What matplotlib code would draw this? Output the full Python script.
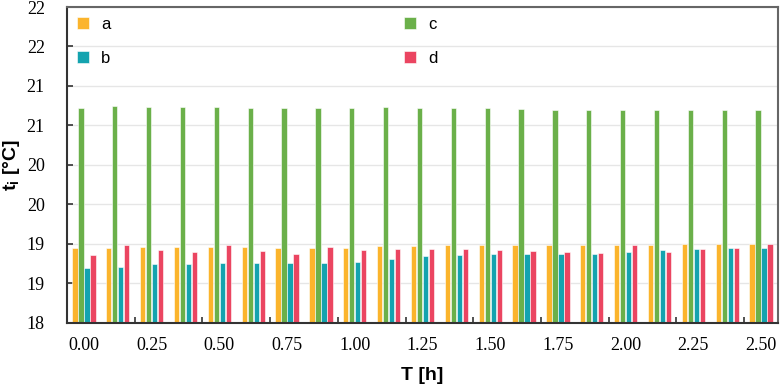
import matplotlib
matplotlib.use("Agg")
import matplotlib.pyplot as plt
import numpy as np

# ---- data ----
time_labels = ["0.00", "0.125", "0.25", "0.375", "0.50", "0.625", "0.75", "0.875",
               "1.00", "1.125", "1.25", "1.375", "1.50", "1.625", "1.75", "1.875",
               "2.00", "2.125", "2.25", "2.375", "2.50"]
series_a = [18.95, 18.95, 18.96, 18.96, 18.96, 18.96, 18.95, 18.95, 18.95, 18.97, 18.975,
            18.98, 18.98, 18.98, 18.98, 18.98, 18.98, 18.99, 18.995, 19.00, 19.00]
series_b = [18.69, 18.71, 18.74, 18.75, 18.76, 18.76, 18.76, 18.76, 18.77, 18.81, 18.84,
            18.86, 18.865, 18.865, 18.87, 18.87, 18.89, 18.92, 18.94, 18.95, 18.95]
series_c = [20.72, 20.74, 20.73, 20.73, 20.73, 20.72, 20.72, 20.72, 20.72, 20.73, 20.72,
            20.72, 20.72, 20.71, 20.70, 20.70, 20.70, 20.70, 20.70, 20.69, 20.69]
series_d = [18.86, 18.99, 18.92, 18.90, 18.99, 18.91, 18.865, 18.96, 18.92, 18.93, 18.93,
            18.93, 18.92, 18.91, 18.895, 18.88, 18.98, 18.89, 18.93, 18.95, 19.00]
y_ticks = [18.0, 18.5, 19.0, 19.5, 20.0, 20.5, 21.0, 21.5, 22.0]
y_tick_labels = ["18", "19", "19", "20", "20", "21", "21", "22", "22"]
x_label_every = 2

colors = {"a": "#FBB42C", "b": "#14A3AF", "c": "#6BB04A", "d": "#EB4561"}

plt.rcParams["mathtext.fontset"] = "custom"
plt.rcParams["mathtext.rm"] = "Liberation Sans"
plt.rcParams["mathtext.bf"] = "Liberation Sans:bold"

fig = plt.figure(figsize=(7.8, 3.86), dpi=100)
ax = fig.add_axes([67 / 780, 1 - 322.7 / 386, 711 / 780, (322.7 - 7) / 386])

x = np.arange(len(time_labels))
pitch = 0.177
width = 0.155
order = [("a", series_a, -1.5), ("c", series_c, -0.5), ("b", series_b, 0.5), ("d", series_d, 1.5)]
handles = {}
for name, vals, k in order:
    bars = ax.bar(x + k * pitch, np.array(vals) - 18.0, bottom=18.0, width=width,
                  color=colors[name], edgecolor="white", linewidth=0.4, label=name, zorder=3)
    handles[name] = bars

ax.set_xlim(-0.5, len(time_labels) - 0.5)
ax.set_ylim(18, 22)
ax.set_yticks(y_ticks)
ax.set_yticklabels(y_tick_labels, family="Liberation Serif", fontsize=13)
ax.grid(axis="y", color="#e6e6e6", linewidth=1.0, zorder=0)
ax.set_axisbelow(True)

major_pos = x[::x_label_every]
ax.set_xticks(major_pos)
ax.set_xticklabels([time_labels[i] for i in major_pos], family="Liberation Serif", fontsize=13)
ax.set_xticks(np.arange(1.5, len(time_labels) - 1, x_label_every), minor=True)
ax.tick_params(axis="x", which="major", length=0, pad=10)
ax.tick_params(axis="x", which="minor", length=4, direction="in", width=1.2, color="#333333")
ax.tick_params(axis="y", which="major", length=4, direction="in", width=1.2, color="#333333", pad=16)

for side in ["left", "bottom"]:
    ax.spines[side].set_color("#333333")
    ax.spines[side].set_linewidth(1.5)
for side in ["top", "right"]:
    ax.spines[side].set_color("#666666")
    ax.spines[side].set_linewidth(1.5)
for sp in ax.spines.values():
    sp.set_zorder(5)

ax.set_xlabel("T [h]", family="Liberation Sans", fontweight="bold", fontsize=14, labelpad=10)
ax.set_ylabel(r"$\mathbf{t_i}$ [°C]", family="Liberation Sans", fontweight="bold", fontsize=14,
              va="center")
ax.yaxis.set_label_coords(-56 / 711, 0.5)

leg = ax.legend([handles["a"], handles["b"], handles["c"], handles["d"]], ["a", "b", "c", "d"],
                ncol=2, loc="upper left", bbox_to_anchor=(10 / 711, 1 - 10 / 316),
                frameon=False, borderaxespad=0, borderpad=0,
                handlelength=0.7, handleheight=0.7, handletextpad=0.75,
                columnspacing=17.6, labelspacing=1.15,
                prop={"family": "Liberation Sans", "size": 12})

fig.savefig("out.png", dpi=100)
